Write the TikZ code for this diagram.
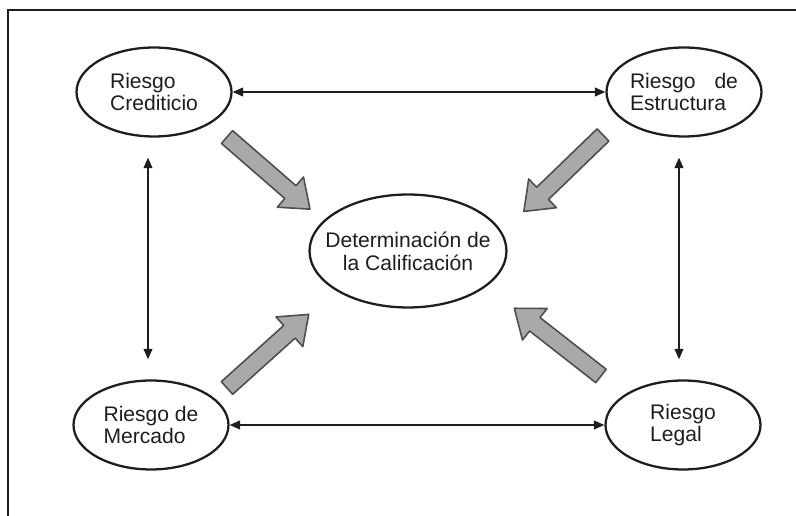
\documentclass[tikz,border=0pt]{standalone}
\usepackage{fontspec}
\setmainfont{Liberation Sans}
\usetikzlibrary{shapes.geometric,arrows.meta}
\definecolor{ink}{HTML}{1E1E1E}
\definecolor{fatfill}{HTML}{A9A9A9}
\definecolor{fatedge}{HTML}{4E4E4E}
\tikzset{
  riesgo/.style={ellipse, draw=ink, line width=1.3pt, minimum width=3.1cm, minimum height=1.78cm, inner sep=0pt, align=left, text=ink, font=\fontsize{12pt}{13pt}\selectfont},
  link/.style={draw=ink, line width=0.9pt, {Triangle[length=6pt,width=5pt]}-{Triangle[length=6pt,width=5pt]}},
  fat/.style={fill=fatfill, draw=fatedge, line width=0.9pt, line join=round},
  pics/fatarrow/.style={code={
    \path[fat] (0,-8.5) -- (84,-8.5) -- (84,-20) -- (110,0) -- (84,20) -- (84,8.5) -- (0,8.5) -- cycle;
  }},
}

\begin{document}
\begin{tikzpicture}[x=0.02cm, y=-0.02cm]
\useasboundingbox (0,0) rectangle (796,516);
% frame, cut off at right and bottom
\draw[ink, line width=1.1pt] (796,10) -- (8,10) -- (8,516);

\node[riesgo] (cred)  at (154,92)  {Riesgo\\Crediticio};
\node[riesgo] (estr)  at (684,92)  {\makebox[2.16cm][s]{Riesgo de}\\Estructura};
\node[riesgo] (merc)  at (151,425) {Riesgo de\\Mercado};
\node[riesgo] (legal) at (683,425) {Riesgo\\Legal};
\node[riesgo, align=center, minimum width=3.94cm, minimum height=2.26cm, inner xsep=-0.3cm] (calif) at (408,251) {Determinación de\\la Calificación};

\draw[link] (cred) -- (estr);
\draw[link] (merc) -- (legal);
\draw[link, shorten <=0.4cm, shorten >=0.4cm] ([xshift=-0.12cm]cred.south) -- ([xshift=-0.12cm]cred.south |- merc.north);
\draw[link, shorten <=0.4cm, shorten >=0.4cm] ([xshift=-0.1cm]estr.south) -- ([xshift=-0.1cm]estr.south |- legal.north);

\pic[rotate=-41]  at (227,137) {fatarrow};
\pic[rotate=-136] at (603,135) {fatarrow};
\pic[rotate=42]   at (227,388) {fatarrow};
\pic[rotate=142]  at (601,376) {fatarrow};
\end{tikzpicture}
\end{document}
